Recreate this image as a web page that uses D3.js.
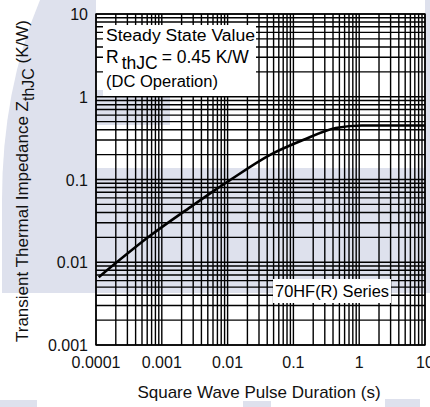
<!DOCTYPE html>
<html>
<head>
<meta charset="utf-8">
<style>
    body { margin: 0; background: #fff; }
    svg { display: block; font-family: "Liberation Sans", Arial, sans-serif; }
</style>
</head>
<body>
<svg width="430" height="407"></svg>
<script src="https://d3js.org/d3.v7.min.js"></script>
<script>

// pulse duration (s) and transient thermal impedance (K/W)
let duration = [0.00011, 0.00067, 0.003, 0.0065, 0.01, 0.045, 0.14, 0.44, 1.1, 3, 10];
let zthjc    = [0.0066,  0.021,   0.049, 0.075,  0.094, 0.2,  0.30, 0.42, 0.45, 0.45, 0.45];

let xTickLabels = ["0.0001", "0.001", "0.01", "0.1", "1", "10"];
let yTickLabels = ["0.001", "0.01", "0.1", "1", "10"];

let plotL = 96, plotR = 425, plotT = 14, plotB = 345;

let svg = d3.select("svg");

// faint background artwork
let wm = svg.append("g").style("fill", "#dee1ed");
wm.append("path")
    .attr("d", "M40,0 Q2,90 2,200 L2,293 L96,293 L96,0 Z");
wm.append("rect").attr("x", 96).attr("y", 168).attr("width", 334).attr("height", 125);
wm.append("rect").attr("x", 425).attr("y", 0).attr("width", 5).attr("height", 290);
wm.append("rect").attr("x", 96).attr("y", 90).attr("width", 74).attr("height", 35);
wm.append("rect").attr("x", 0).attr("y", 400).attr("width", 37).attr("height", 7);
wm.append("rect").attr("x", 243).attr("y", 401).attr("width", 28).attr("height", 6);
wm.append("rect").attr("x", 385).attr("y", 399).attr("width", 35).attr("height", 8);

let x = d3.scaleLog().domain([0.0001, 10]).range([plotL, plotR]);
let y = d3.scaleLog().domain([0.001, 10]).range([plotB, plotT]);

// log grid, every 1..9 multiple
let grid = svg.append("g")
    .style("stroke", "#000")
    .style("stroke-width", 1.4);

grid.selectAll(".vx")
    .data(x.ticks())
    .join("line")
    .attr("x1", d => x(d)).attr("x2", d => x(d))
    .attr("y1", plotT).attr("y2", plotB);

grid.selectAll(".hy")
    .data(y.ticks())
    .join("line")
    .attr("x1", plotL).attr("x2", plotR)
    .attr("y1", d => y(d)).attr("y2", d => y(d));

svg.append("rect")
    .attr("x", plotL).attr("y", plotT)
    .attr("width", plotR - plotL).attr("height", plotB - plotT)
    .style("fill", "none")
    .style("stroke", "#000")
    .style("stroke-width", 1.4);

// impedance curve
let line = d3.line()
    .x((d, i) => x(duration[i]))
    .y(d => y(d))
    .curve(d3.curveMonotoneX);

svg.append("path")
    .attr("d", line(zthjc))
    .style("fill", "none")
    .style("stroke", "#000")
    .style("stroke-width", 2.6);

// note boxes
svg.append("rect")
    .attr("x", 103).attr("y", 25).attr("width", 153).attr("height", 71)
    .style("fill", "#fff");
svg.append("rect")
    .attr("x", 273).attr("y", 279).attr("width", 118).attr("height", 24)
    .style("fill", "#fff");

let note = svg.append("g").style("font-size", "16px").style("fill", "#000");
note.append("text").attr("x", 106).attr("y", 41)
    .attr("textLength", 149).attr("lengthAdjust", "spacingAndGlyphs")
    .text("Steady State Value");
let r = note.append("text").attr("x", 106).attr("y", 63).style("font-size", "17.5px");
r.append("tspan").text("R");
r.append("tspan").attr("dy", 6).attr("dx", 3).text("thJC");
r.append("tspan").attr("dy", -6).attr("dx", 4).text("= 0.45 K/W");
note.append("text").attr("x", 106).attr("y", 87)
    .attr("textLength", 112).attr("lengthAdjust", "spacingAndGlyphs")
    .text("(DC Operation)");
note.append("text").attr("x", 275).attr("y", 297)
    .attr("textLength", 114).attr("lengthAdjust", "spacingAndGlyphs")
    .text("70HF(R) Series");

// tick labels
let isDecade = d => Math.abs(Math.log10(d) - Math.round(Math.log10(d))) < 1e-9;
let xDecades = x.ticks().filter(isDecade);
let yDecades = y.ticks().filter(isDecade);

svg.append("g")
    .selectAll("text")
    .data(xDecades)
    .join("text")
    .attr("x", d => x(d))
    .attr("y", 368)
    .attr("text-anchor", "middle")
    .style("font-size", "16px")
    .style("fill", "#111")
    .text((d, i) => xTickLabels[i]);

svg.append("g")
    .selectAll("text")
    .data(yDecades)
    .join("text")
    .attr("x", 88)
    .attr("y", d => y(d) + 6)
    .attr("text-anchor", "end")
    .style("font-size", "16px")
    .style("fill", "#111")
    .text((d, i) => yTickLabels[i]);

// axis titles
svg.append("text")
    .attr("x", 259).attr("y", 398)
    .attr("text-anchor", "middle")
    .style("font-size", "17px")
    .style("fill", "#111")
    .text("Square Wave Pulse Duration (s)");

let yt = svg.append("text")
    .attr("transform", "translate(28,181) rotate(-90)")
    .attr("text-anchor", "middle")
    .style("font-size", "17px")
    .style("fill", "#111");
yt.append("tspan").text("Transient Thermal Impedance Z");
yt.append("tspan").attr("dy", 6).style("font-size", "16px").text("thJC");
yt.append("tspan").attr("dy", -6).text(" (K/W)");

</script>
</body>
</html>
